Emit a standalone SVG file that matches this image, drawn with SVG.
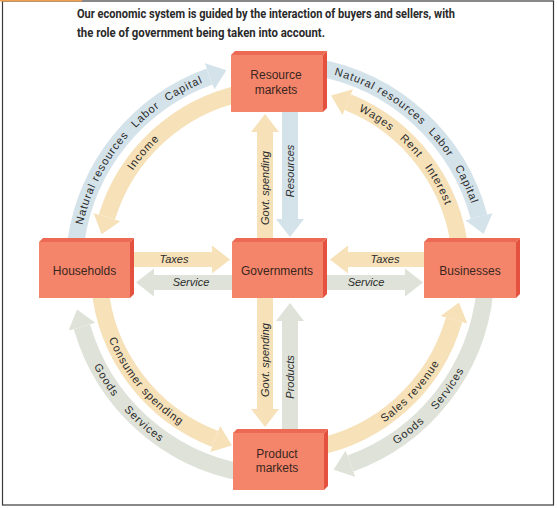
<svg xmlns="http://www.w3.org/2000/svg" xmlns:xlink="http://www.w3.org/1999/xlink" width="557" height="508" viewBox="0 0 557 508">
<defs>
<style>
.band{fill:none;stroke-width:17;stroke-linecap:butt}
.blue{stroke:#d4e2ea}
.tan{stroke:#f6e1b8}
.grey{stroke:#dee2d8}
.fblue{fill:#d4e2ea}
.ftan{fill:#f6e1b8}
.fgrey{fill:#dee2d8}
.front{fill:#f5856a}
.top{fill:#ec6a53}
.side{fill:#e4523f}
.nlabel{font-family:"Liberation Sans",Arial,sans-serif;font-size:12px;fill:#3a2620;text-anchor:middle}
.alabel{font-family:"Liberation Sans",Arial,sans-serif;font-size:11px;fill:#2b2b2b;letter-spacing:0.9px}
.slabel{font-family:"Liberation Sans",Arial,sans-serif;font-size:11px;font-style:italic;fill:#2b2b2b;text-anchor:middle}
.title{font-family:Roboto,"Liberation Sans",sans-serif;font-weight:bold;font-size:12px;fill:#2a2a2a}
</style>
<marker id="hb" viewBox="0 -14 18 28" refX="0" refY="0" markerWidth="18" markerHeight="28" markerUnits="userSpaceOnUse" orient="auto"><path d="M0,-14 L18,0 L0,14 z" fill="#d4e2ea"/></marker>
<marker id="ht" viewBox="0 -14 18 28" refX="0" refY="0" markerWidth="18" markerHeight="28" markerUnits="userSpaceOnUse" orient="auto"><path d="M0,-14 L18,0 L0,14 z" fill="#f6e1b8"/></marker>
<marker id="hg" viewBox="0 -14 18 28" refX="0" refY="0" markerWidth="18" markerHeight="28" markerUnits="userSpaceOnUse" orient="auto"><path d="M0,-14 L18,0 L0,14 z" fill="#dee2d8"/></marker>
<path id="t1" d="M80.6,234.8 A202.5,202.5 0 0 1 227.6,74.4"/>
<path id="t2" d="M108.5,224.1 A177.5,177.5 0 0 1 255.3,94.2"/>
<path id="t3" d="M315.2,70.6 A202.5,202.5 0 0 1 481.7,252.3"/>
<path id="t4" d="M325.9,98.5 A177.5,177.5 0 0 1 456.8,254.5"/>
<path id="t5" d="M95.6,276.4 A184.5,184.5 0 0 0 248.0,451.7"/>
<path id="t6" d="M70.6,277.3 A209.5,209.5 0 0 0 261.7,478.7"/>
<path id="t7" d="M296.1,453.8 A184.5,184.5 0 0 0 464.4,276.4"/>
<path id="t8" d="M298.3,478.7 A209.5,209.5 0 0 0 489.4,277.3"/>
</defs>
<rect x="0" y="0" width="557" height="508" fill="#ffffff"/>
<rect x="2.5" y="1" width="551" height="504" fill="none" stroke="#3a3a3a" stroke-width="1.2"/>
<line x1="0" y1="0.8" x2="82" y2="0.8" stroke="#f0a050" stroke-width="1.6"/>
<text class="title" x="77" y="18" textLength="378" lengthAdjust="spacingAndGlyphs">Our economic system is guided by the interaction of buyers and sellers, with</text>
<text class="title" x="77" y="37" textLength="248" lengthAdjust="spacingAndGlyphs">the role of government being taken into account.</text>
<g id="connectors">
<path class="band blue" d="M76.0,241.3 A206,206 0 0 1 209.5,76.4" marker-end="url(#hb)"/>
<path class="band tan" d="M242.4,93.0 A181,181 0 0 0 106.9,217.1" marker-end="url(#ht)"/>
<path class="band blue" d="M315.8,67.1 A206,206 0 0 1 479.0,216.7" marker-end="url(#hb)"/>
<path class="band tan" d="M460.0,251.1 A181,181 0 0 0 347.8,102.2" marker-end="url(#ht)"/>
<path class="band tan" d="M99.7,285.8 A181,181 0 0 0 215.1,439.0" marker-end="url(#ht)"/>
<path class="band grey" d="M244.2,472.9 A206,206 0 0 1 82.0,326.8" marker-end="url(#hg)"/>
<path class="band tan" d="M311.4,448.2 A181,181 0 0 0 454.0,319.9" marker-end="url(#ht)"/>
<path class="band grey" d="M484.9,291.5 A206,206 0 0 1 350.5,463.6" marker-end="url(#hg)"/>
<polygon class="ftan" points="257,240 257,132 251,132 265,114 279,132 273,132 273,240"/>
<polygon class="fblue" points="282,110 282,219 276,219 290,237 304,219 298,219 298,110"/>
<polygon class="ftan" points="257,296 257,409 251,409 265,427 279,409 273,409 273,296"/>
<polygon class="fgrey" points="282,434 282,321 276,321 290,303 304,321 298,321 298,434"/>
<polygon class="ftan" points="128,252 212,252 212,245.5 230,259.5 212,273.5 212,267 128,267"/>
<polygon class="fgrey" points="234,275 154,275 154,268.5 136,282.5 154,296.5 154,290 234,290"/>
<polygon class="ftan" points="428,252 348,252 348,245.5 330,259.5 348,273.5 348,267 428,267"/>
<polygon class="fgrey" points="322,275 405,275 405,268.5 423,282.5 405,296.5 405,290 322,290"/>
<text class="alabel"><textPath xlink:href="#t1" startOffset="9.9">Natural resources</textPath></text>
<text class="alabel"><textPath xlink:href="#t1" startOffset="121.6">Labor</textPath></text>
<text class="alabel"><textPath xlink:href="#t1" startOffset="163.3">Capital</textPath></text>
<text class="alabel"><textPath xlink:href="#t2" startOffset="58.9">Income</textPath></text>
<text class="alabel"><textPath xlink:href="#t3" startOffset="19.4">Natural resources</textPath></text>
<text class="alabel"><textPath xlink:href="#t3" startOffset="130.8">Labor</textPath></text>
<text class="alabel"><textPath xlink:href="#t3" startOffset="175.3">Capital</textPath></text>
<text class="alabel"><textPath xlink:href="#t4" startOffset="35">Wages</textPath></text>
<text class="alabel"><textPath xlink:href="#t4" startOffset="84.6">Rent</textPath></text>
<text class="alabel"><textPath xlink:href="#t4" startOffset="122.7">Interest</textPath></text>
<text class="alabel"><textPath xlink:href="#t5" startOffset="64.4">Consumer spending</textPath></text>
<text class="alabel"><textPath xlink:href="#t6" startOffset="92.5">Goods</textPath></text>
<text class="alabel"><textPath xlink:href="#t6" startOffset="145.5">Services</textPath></text>
<text class="alabel"><textPath xlink:href="#t7" startOffset="94.3">Sales revenue</textPath></text>
<text class="alabel"><textPath xlink:href="#t8" startOffset="104.6">Goods</textPath></text>
<text class="alabel"><textPath xlink:href="#t8" startOffset="157">Services</textPath></text>
<text class="slabel" x="174" y="263">Taxes</text>
<text class="slabel" x="191" y="286">Service</text>
<text class="slabel" x="385" y="263">Taxes</text>
<text class="slabel" x="366" y="286">Service</text>
<text class="slabel" transform="translate(269,188) rotate(-90)">Govt. spending</text>
<text class="slabel" transform="translate(294,171) rotate(-90)">Resources</text>
<text class="slabel" transform="translate(269,360) rotate(-90)">Govt. spending</text>
<text class="slabel" transform="translate(294,377) rotate(-90)">Products</text>
</g>
<g id="node-resource-markets">
<polygon class="top" points="231,55 235,51 327,51 323,55"/>
<polygon class="side" points="323,55 327,51 327,108 323,112"/>
<rect class="front" x="231" y="55" width="92" height="57"/>
<text class="nlabel" x="276" y="79">Resource</text>
<text class="nlabel" x="276" y="94">markets</text>
</g>
<g id="node-households">
<polygon class="top" points="39,242 43,238 134,238 130,242"/>
<polygon class="side" points="130,242 134,238 134,294 130,298"/>
<rect class="front" x="39" y="242" width="91" height="56"/>
<text class="nlabel" x="84.5" y="274.5">Households</text>
</g>
<g id="node-governments">
<polygon class="top" points="232,242 236,238 327,238 323,242"/>
<polygon class="side" points="323,242 327,238 327,294 323,298"/>
<rect class="front" x="232" y="242" width="91" height="56"/>
<text class="nlabel" x="277" y="275">Governments</text>
</g>
<g id="node-businesses">
<polygon class="top" points="424,242 428,238 520,238 516,242"/>
<polygon class="side" points="516,242 520,238 520,294 516,298"/>
<rect class="front" x="424" y="242" width="92" height="56"/>
<text class="nlabel" x="470" y="274.5">Businesses</text>
</g>
<g id="node-product-markets">
<polygon class="top" points="233,433 237,429 328,429 324,433"/>
<polygon class="side" points="324,433 328,429 328,486 324,490"/>
<rect class="front" x="233" y="433" width="91" height="57"/>
<text class="nlabel" x="277" y="458">Product</text>
<text class="nlabel" x="277" y="472">markets</text>
</g>
</svg>
